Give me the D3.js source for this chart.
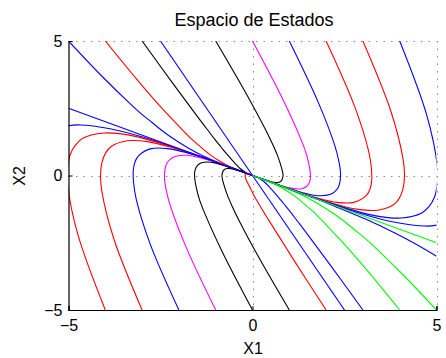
<!DOCTYPE html>
<html>
<head>
<meta charset="utf-8">
<script src="https://cdn.jsdelivr.net/npm/d3@7"></script>
<style>
  body { margin: 0; background: #fff; }
  svg { display: block; font-family: "Liberation Sans", Arial, sans-serif; }
</style>
</head>
<body>
<svg id="chart" width="446" height="358"></svg>
<script>
// trajectories entering from the top edge (x1, x2)
const top1 = [[-5,5],[-4.09,3.69],[-3.35,2.70],[-3.03,2.30],[-2.73,1.97],[-2.47,1.68],[-2.22,1.43],[-1.77,1.04],[-1.38,0.75],[-1.01,0.53],[-0.67,0.34],[-0.33,0.17],[0,0]];
const top2 = [[-4,5],[-3.11,3.52],[-2.42,2.44],[-2.13,2.02],[-1.88,1.66],[-1.66,1.36],[-1.46,1.12],[-1.13,0.75],[-0.85,0.50],[-0.62,0.33],[-0.40,0.21],[-0.2,0.1],[0,0]];
const top3 = [[-3,5],[-2.13,3.36],[-1.49,2.18],[-1.24,1.73],[-1.03,1.35],[-0.85,1.05],[-0.70,0.80],[-0.48,0.46],[-0.33,0.25],[-0.22,0.14],[-0.14,0.07],[-0.07,0.03],[0,0]];
const top5 = [[-1,5],[-0.17,3.04],[0.37,1.66],[0.55,1.15],[0.68,0.74],[0.76,0.42],[0.81,0.18],[0.83,0.00],[0.81,-0.13],[0.78,-0.20],[0.72,-0.25],[0.58,-0.25],[0.40,-0.19],[0.2,-0.1],[0,0]];
const top6 = [[0,5],[0.81,2.87],[1.30,1.40],[1.45,0.86],[1.53,0.43],[1.57,0.11],[1.57,-0.14],[1.53,-0.31],[1.46,-0.42],[1.36,-0.48],[1.25,-0.50],[0.97,-0.45],[0.66,-0.32],[0.33,-0.17],[0,0]];
const top7 = [[1,5],[1.79,2.71],[2.23,1.14],[2.34,0.57],[2.39,0.13],[2.38,-0.21],[2.33,-0.45],[2.23,-0.61],[2.10,-0.71],[1.77,-0.75],[1.37,-0.64],[0.93,-0.46],[0.47,-0.23],[0,0]];
const top8 = [[2,5],[2.78,2.55],[3.16,0.88],[3.23,0.28],[3.24,-0.18],[3.19,-0.52],[3.08,-0.76],[2.75,-1.0],[2.30,-1.0],[1.77,-0.84],[1.19,-0.59],[0.6,-0.3],[0,0]];
const top9 = [[3,5],[3.76,2.39],[4.09,0.62],[4.13,-0.01],[4.09,-0.49],[3.99,-0.84],[3.84,-1.08],[3.40,-1.29],[2.82,-1.25],[2.17,-1.03],[1.46,-0.72],[0.73,-0.37],[0,0]];
const top10 = [[4,5],[4.74,2.22],[5.02,0.36],[5.02,-0.30],[4.95,-0.79],[4.80,-1.15],[4.60,-1.39],[4.04,-1.58],[3.35,-1.50],[2.56,-1.22],[1.73,-0.85],[0.87,-0.43],[0,0]];
const top11 = [[5.72,2.06],[5.95,0.10],[5.92,-0.59],[5.80,-1.10],[5.61,-1.47],[5.35,-1.70],[5.04,-1.84],[4.69,-1.88],[3.87,-1.74],[2.96,-1.42],[1.99,-0.98],[1.0,-0.5],[0,0]];

// trajectories entering from the bottom edge
const bot0 = [[-5.72,-2.06],[-5.95,-0.10],[-5.92,0.59],[-5.80,1.10],[-5.61,1.47],[-5.35,1.70],[-5.04,1.84],[-4.69,1.88],[-3.87,1.74],[-2.96,1.42],[-1.99,0.98],[-1.0,0.5],[0,0]];
const bot1 = [[-4,-5],[-4.74,-2.22],[-5.02,-0.36],[-5.02,0.30],[-4.95,0.79],[-4.80,1.15],[-4.60,1.39],[-4.04,1.58],[-3.35,1.50],[-2.56,1.22],[-1.73,0.85],[-0.87,0.43],[0,0]];
const bot2 = [[-3,-5],[-3.76,-2.39],[-4.09,-0.62],[-4.13,0.01],[-4.09,0.49],[-3.99,0.84],[-3.84,1.08],[-3.40,1.29],[-2.82,1.25],[-2.17,1.03],[-1.46,0.72],[-0.73,0.37],[0,0]];
const bot3 = [[-2,-5],[-2.78,-2.55],[-3.16,-0.88],[-3.23,-0.28],[-3.24,0.18],[-3.19,0.52],[-3.08,0.76],[-2.75,1.0],[-2.30,1.0],[-1.77,0.84],[-1.19,0.59],[-0.6,0.3],[0,0]];
const bot4 = [[-1,-5],[-1.79,-2.71],[-2.23,-1.14],[-2.34,-0.57],[-2.39,-0.13],[-2.38,0.21],[-2.33,0.45],[-2.23,0.61],[-2.10,0.71],[-1.77,0.75],[-1.37,0.64],[-0.93,0.46],[-0.47,0.23],[0,0]];
const bot5 = [[0,-5],[-0.81,-2.87],[-1.30,-1.40],[-1.45,-0.86],[-1.53,-0.43],[-1.57,-0.11],[-1.57,0.14],[-1.53,0.31],[-1.46,0.42],[-1.36,0.48],[-1.25,0.50],[-0.97,0.45],[-0.66,0.32],[-0.33,0.17],[0,0]];
const bot6 = [[1,-5],[0.17,-3.04],[-0.37,-1.66],[-0.55,-1.15],[-0.68,-0.74],[-0.76,-0.42],[-0.81,-0.18],[-0.83,0.00],[-0.81,0.13],[-0.78,0.20],[-0.72,0.25],[-0.58,0.25],[-0.40,0.19],[-0.2,0.1],[0,0]];
const bot7 = [[2,-5],[1.15,-3.2],[0.56,-1.92],[0.34,-1.44],[0.17,-1.05],[0.04,-0.74],[-0.05,-0.49],[-0.12,-0.31],[-0.17,-0.17],[-0.19,-0.07],[-0.20,0.0],[-0.18,0.06],[-0.13,0.06],[-0.07,0.03],[0,0]];
const bot9 = [[3,-5],[2.13,-3.36],[1.49,-2.18],[1.24,-1.73],[1.03,-1.35],[0.85,-1.05],[0.70,-0.80],[0.48,-0.46],[0.33,-0.25],[0.22,-0.14],[0.14,-0.07],[0.07,-0.03],[0,0]];
const bot10 = [[4,-5],[3.11,-3.52],[2.42,-2.44],[2.13,-2.02],[1.88,-1.66],[1.66,-1.36],[1.46,-1.12],[1.13,-0.75],[0.85,-0.50],[0.62,-0.33],[0.40,-0.21],[0.2,-0.1],[0,0]];
const bot11 = [[5,-5],[4.09,-3.69],[3.35,-2.70],[3.03,-2.30],[2.73,-1.97],[2.47,-1.68],[2.22,-1.43],[1.77,-1.04],[1.38,-0.75],[1.01,-0.53],[0.67,-0.34],[0.33,-0.17],[0,0]];

// trajectory entering from the right edge
const right3 = [[5,-3],[4.42,-2.54],[3.87,-2.14],[3.35,-1.79],[2.84,-1.49],[2.35,-1.21],[1.88,-0.95],[1.40,-0.71],[0.93,-0.47],[0.47,-0.23],[0,0]];

// straight eigen-direction lines
const slowLeft = [[-5,2.5],[0,0]];
const slowRight = [[5,-2.5],[0,0]];
const fastTop = [[-2.5,5],[0,0]];
const fastBottom = [[2.5,-5],[0,0]];

const xTicks = [-5, 0, 5];
const yTicks = [-5, 0, 5];

const B = '#0000ff', R = '#ff0000', K = '#000000', M = '#ff00ff', G = '#00ff00';
const curves = [
  [top1, B], [top2, R], [top3, K], [fastTop, B], [top5, K], [top6, M], [top7, B],
  [top8, R], [top9, R], [top10, B], [top11, B],
  [bot0, B], [bot1, R], [bot2, R], [bot3, B], [bot4, M], [bot5, K], [bot6, K],
  [bot7, R], [fastBottom, B], [bot9, B], [bot10, G], [bot11, G],
  [slowLeft, B], [right3, B], [slowRight, G]
];

const svg = d3.select('#chart');
const x = d3.scaleLinear().domain([-5, 5]).range([68.5, 436.5]);
const y = d3.scaleLinear().domain([-5, 5]).range([310, 41]);

svg.append('defs').append('clipPath').attr('id', 'plot')
  .append('rect')
  .attr('x', x(-5)).attr('y', y(5))
  .attr('width', x(5) - x(-5)).attr('height', y(-5) - y(5));

// dotted grid
const grid = svg.append('g')
  .attr('stroke', '#8a8a8a')
  .attr('stroke-width', 1)
  .attr('stroke-dasharray', '1.5,6');
grid.selectAll('.gx').data(xTicks.filter(d => d > -5)).enter().append('line')
  .attr('x1', d => Math.round(x(d)) + 0.5).attr('x2', d => Math.round(x(d)) + 0.5)
  .attr('y1', y(5)).attr('y2', y(-5));
grid.selectAll('.gy').data(yTicks.filter(d => d > -5)).enter().append('line')
  .attr('y1', d => Math.round(y(d)) + 0.5).attr('y2', d => Math.round(y(d)) + 0.5)
  .attr('x1', x(-5)).attr('x2', x(5));

// trajectories
const line = d3.line()
  .x(d => x(d[0]))
  .y(d => y(d[1]))
  .curve(d3.curveCatmullRom.alpha(0.5));

svg.append('g').attr('clip-path', 'url(#plot)')
  .selectAll('path').data(curves).enter().append('path')
  .attr('d', d => line(d[0]))
  .attr('fill', 'none')
  .attr('stroke', d => d[1])
  .attr('stroke-width', 1.1);

// axes
const xAxis = d3.axisBottom(x).tickValues(xTicks).tickSize(-4)
  .tickFormat(d => d < 0 ? '\u2212' + Math.abs(d) : d);
const yAxis = d3.axisLeft(y).tickValues(yTicks).tickSize(-4)
  .tickFormat(d => d < 0 ? '\u2212' + Math.abs(d) : d);

const gx = svg.append('g').attr('transform', `translate(0,${y(-5)})`).call(xAxis);
const gy = svg.append('g').attr('transform', `translate(${x(-5)},0)`).call(yAxis);
[gx, gy].forEach(g => {
  g.select('.domain').attr('stroke', '#000').attr('stroke-width', 1.2);
  g.selectAll('.tick line').attr('stroke', '#000');
  g.selectAll('text').attr('fill', '#000')
    .style('font-size', '16px').style('font-family', '"Liberation Sans", Arial, sans-serif');
});
gx.selectAll('text').attr('dy', '0.95em').attr('y', 6);
gy.selectAll('text').attr('x', -6);

// title and labels
svg.append('text').attr('x', 254).attr('y', 26)
  .attr('text-anchor', 'middle').style('font-size', '18px')
  .text('Espacio de Estados');
svg.append('text').attr('x', 253).attr('y', 354)
  .attr('text-anchor', 'middle').style('font-size', '16px')
  .text('X1');
svg.append('text').attr('transform', 'translate(25,176) rotate(-90)')
  .attr('text-anchor', 'middle').style('font-size', '16px')
  .text('X2');
</script>
</body>
</html>
